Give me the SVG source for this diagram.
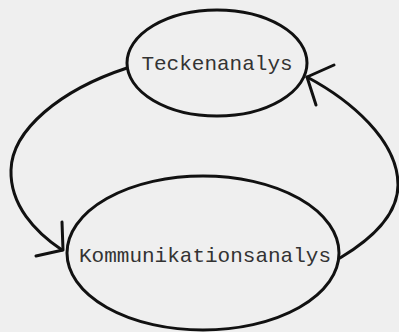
<svg xmlns="http://www.w3.org/2000/svg" width="399" height="332" viewBox="0 0 399 332">
<style>
.node{fill:none;stroke:#111;stroke-width:3}
.lbl{font-family:"Liberation Mono","DejaVu Sans Mono",monospace;font-size:21px;fill:#333}
.conn{fill:none;stroke:#111;stroke-width:3;stroke-linecap:round;stroke-linejoin:round}
</style>
<rect width="399" height="332" fill="#efefef"/>
<g id="connectors">
<path class="conn" d="M127,68 C60,90 12,130 11,170 C10,205 35,232 62,250"/>
<path class="conn" d="M62,222 L63,250 L36,256"/>
<path class="conn" d="M340,258 C370,240 398,215 398,185 C398,140 350,100 307,77"/>
<path class="conn" d="M334,65 L307,77 L316,105"/>
</g>
<g id="teckenanalys">
<ellipse class="node" cx="217" cy="63" rx="90" ry="53"/>
<text class="lbl" x="217" y="70" text-anchor="middle">Teckenanalys</text>
</g>
<g id="kommunikationsanalys">
<ellipse class="node" cx="203" cy="253" rx="136" ry="77"/>
<text class="lbl" x="205" y="262" text-anchor="middle">Kommunikationsanalys</text>
</g>
</svg>
